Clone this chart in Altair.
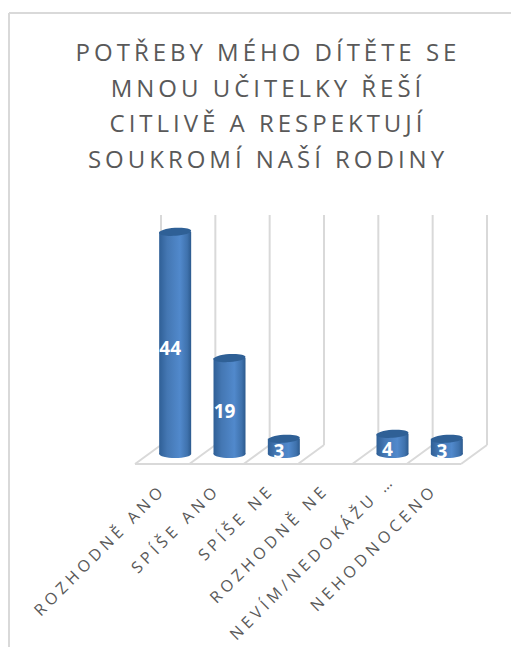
import altair as alt
import pandas as pd

title_lines = ["POTŘEBY MÉHO DÍTĚTE SE", "MNOU UČITELKY ŘEŠÍ", "CITLIVĚ A RESPEKTUJÍ", "SOUKROMÍ NAŠÍ RODINY"]
categories = ["ROZHODNĚ ANO", "SPÍŠE ANO", "SPÍŠE NE", "ROZHODNĚ NE", "NEVÍM/NEDOKÁŽU …", "NEHODNOCENO"]
values = [44, 19, 3, None, 4, 3]
wall_positions = [0, 1, 2, 3, 4, 5, 6]
truncated_label = "NEVÍM/NEDOKÁŽU …"

bars = pd.DataFrame({"cat": categories, "v": values}).dropna()
walls = pd.DataFrame({"pos": wall_positions})

GRID = "#d9d9d9"
LABEL_GAP = "\u2009\u200a"
ELLIPSE = "M-1,0 A1,0.25 0 1,1 1,0 A1,0.25 0 1,1 -1,0 Z"
grad = alt.Gradient(
    gradient="linear", x1=0, x2=1, y1=0, y2=0,
    stops=[
        alt.GradientStop(offset=0, color="#2f5f96"),
        alt.GradientStop(offset=0.25, color="#4477b3"),
        alt.GradientStop(offset=0.65, color="#5189cc"),
        alt.GradientStop(offset=0.88, color="#3f72ad"),
        alt.GradientStop(offset=1, color="#2c5a8e"),
    ],
)

xq = alt.X("pos:Q", axis=None, scale=alt.Scale(domain=[0, 6], nice=False, zero=False))
yscale = alt.Scale(domain=[0, 47.33], nice=False)
yq = alt.Y("z:Q", axis=None, scale=yscale)

wall_base = alt.Chart(walls).transform_calculate(z="0")
grid = wall_base.mark_rule(color=GRID, strokeWidth=2, xOffset=13, yOffset=-9).encode(
    x=xq, y=yq, y2=alt.value(0))
slant = wall_base.mark_rule(color=GRID, strokeWidth=2, xOffset=-13, x2Offset=13, yOffset=10, y2Offset=-9).encode(
    x=xq, x2="pos:Q", y=yq, y2="z:Q")
front = wall_base.transform_aggregate(a="min(pos)", b="max(pos)", z="min(z)").mark_rule(
    color=GRID, strokeWidth=2, xOffset=-13, x2Offset=-13, yOffset=10, y2Offset=10).encode(
    x=alt.X("a:Q", axis=None, scale=alt.Scale(domain=[0, 6], nice=False, zero=False)), x2="b:Q", y=yq)

xb = alt.X("cat:N", title=None, scale=alt.Scale(domain=categories, paddingInner=0, paddingOuter=0),
           axis=alt.Axis(domain=False, ticks=False, grid=False, labelAngle=315, labelAlign="right",
                         labelBaseline="middle", labelFont="Open Sans", labelFontSize=16,
                         values=[c for c in categories if c != truncated_label],
                         labelExpr=f"join(split(datum.label, ''), '{LABEL_GAP}')",
                         labelColor="#595959", labelOffset=-15, labelPadding=36, labelLimit=400))
yv = alt.Y("v:Q", axis=None, scale=yscale)

base = alt.Chart(bars)
bottom = base.transform_calculate(z="0").mark_point(filled=True, fill=grad, opacity=1, shape=ELLIPSE, size=1024).encode(
    x=xb, y=yq)
body = base.mark_bar(size=32, fill=grad).encode(x=xb, y=yv)
cap = base.mark_point(filled=True, fill="#2f6096", opacity=1, shape=ELLIPSE, size=1024, angle=356).encode(x=xb, y=yv)
labels = base.transform_calculate(mid="datum.v / 2").mark_text(
    color="white", font="Open Sans", fontWeight="bold", fontSize=19, dx=-5, dy=6).encode(
    x=xb, y=alt.Y("mid:Q", axis=None, scale=yscale), text="v:Q")

long_label = alt.Chart(pd.DataFrame({"cat": [truncated_label], "z": [0]})).mark_text(
    text=LABEL_GAP.join(truncated_label), font="Open Sans", fontSize=16, color="#595959",
    angle=315, align="right", baseline="middle", xOffset=-3, yOffset=27).encode(
    x=xb, y=yq)

frame_df = pd.DataFrame({"z": [0]})
frame_left = alt.Chart(frame_df).mark_rule(color=GRID, strokeWidth=2).encode(
    x=alt.value(-139), y=alt.value(-202), y2=alt.value(432))
frame_top = alt.Chart(frame_df).mark_rule(color=GRID, strokeWidth=2).encode(
    x=alt.value(-139), x2=alt.value(363), y=alt.value(-202))
title = alt.Chart(frame_df).mark_text(
    text=["\u2009".join(t) for t in title_lines], font="Open Sans", fontSize=24, color="#595959",
    lineHeight=35.7, align="center", baseline="alphabetic").encode(
    x=alt.value(118), y=alt.value(-154))

wall_layer = alt.layer(grid, slant, front)
bar_layer = alt.layer(bottom, body, cap, labels, long_label)

chart = alt.layer(frame_left, frame_top, title, wall_layer, bar_layer).resolve_scale(x="independent").properties(
    width=326, height=239,
    padding={"left": 140, "top": 207, "right": 37, "bottom": 193},
    autosize=alt.AutoSizeParams(type="none"),
).configure_view(stroke=None)

chart.save("out.html", embed_options={"renderer": "svg", "actions": False})
